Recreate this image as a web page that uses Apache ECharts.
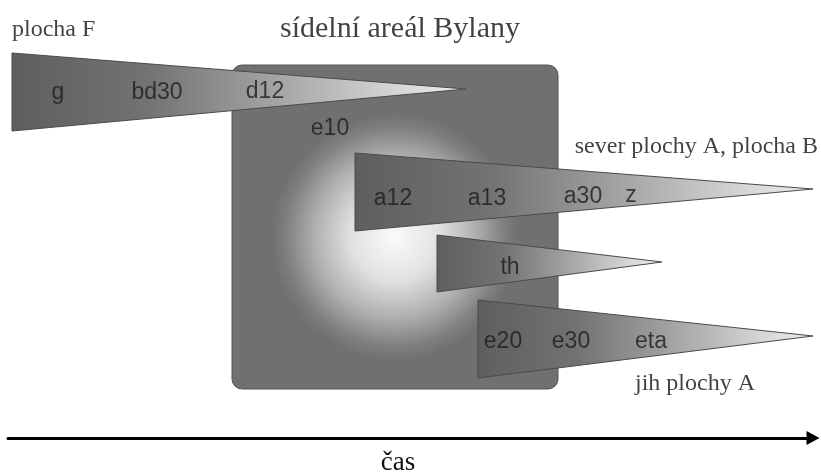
<!DOCTYPE html>
<html>
<head>
<meta charset="utf-8">
<script src="https://cdn.jsdelivr.net/npm/echarts@6/dist/echarts.min.js"></script>
<style>
html,body{margin:0;padding:0;background:#fff;}
#c{width:821px;height:474px;}
</style>
</head>
<body>
<div id="c"></div>
<script>
// ---- data (diagram units = horizontal time, vertical lane position) ----
const areaName = 'sídelní areál Bylany';
const areaX = [232, 558];        // start, end of settlement area
const areaY = [65, 389];         // top, bottom

const wedgeNames = ['plocha F', 'sever plochy A, plocha B', 'th', 'jih plochy A'];
const wedgeStart = [12, 355, 437, 478];
const wedgeEnd = [466, 813, 662, 813];
const wedgeTop = [53, 153, 235, 300];
const wedgeBottom = [131, 231, 292, 378];
const wedgeApexY = [89, 189, 262, 336];

const phaseLabels = ['g', 'bd30', 'd12', 'e10', 'a12', 'a13', 'a30', 'z', 'th', 'e20', 'e30', 'eta'];
const phaseX = [58, 157, 265, 330, 393, 487, 583, 631, 510, 503, 571, 651];
const phaseY = [93, 93, 92, 129, 199, 199, 197, 196, 268, 342, 342, 342];

const groupLabels = ['plocha F', 'sídelní areál Bylany', 'sever plochy A, plocha B', 'jih plochy A'];
const groupX = [12, 400, 818, 635];
const groupY = [30, 29, 147, 384];
const groupAlign = ['left', 'center', 'right', 'left'];
const groupSize = [24, 30, 24, 24];

const axisName = 'čas';

// ---- chart ----
const chart = echarts.init(document.getElementById('c'), null, {renderer: 'canvas'});

const wedgeData = wedgeNames.map((n, i) => [wedgeStart[i], wedgeTop[i], wedgeBottom[i], wedgeEnd[i], wedgeApexY[i]]);

const wedgeFill = {
  type: 'linear', x: 0, y: 0, x2: 1, y2: 0,
  colorStops: [
    {offset: 0, color: '#5e5e5e'},
    {offset: 0.3, color: '#737373'},
    {offset: 0.55, color: '#9e9e9e'},
    {offset: 0.85, color: '#d6d6d6'},
    {offset: 1, color: '#ededed'}
  ]
};

const areaFill = {
  type: 'radial', x: 0.5, y: 0.53, r: 0.38,
  colorStops: [
    {offset: 0, color: '#fafafa'},
    {offset: 0.35, color: '#e2e2e2'},
    {offset: 0.65, color: '#b0b0b0'},
    {offset: 0.88, color: '#808080'},
    {offset: 1, color: '#707070'}
  ]
};

chart.setOption({
  animation: false,
  backgroundColor: '#ffffff',
  grid: {left: 8, right: 8, top: 0, bottom: 36, containLabel: false, outerBoundsMode: 'none'},
  xAxis: {
    type: 'value', min: 8, max: 813,
    axisLine: {
      show: true, onZero: false,
      symbol: ['none', 'triangle'], symbolSize: [14, 13],
      lineStyle: {color: '#000', width: 3}
    },
    axisTick: {show: false}, axisLabel: {show: false}, splitLine: {show: false},
    name: axisName, nameLocation: 'middle', nameGap: 11,
    nameTextStyle: {fontFamily: 'Liberation Serif', fontSize: 27, color: '#111', padding: [0, 25, 0, 0]}
  },
  yAxis: {type: 'value', min: 0, max: 438, inverse: true, show: false},
  series: [
    {
      type: 'custom', name: areaName, z: 1,
      data: [[areaX[0], areaY[0], areaX[1], areaY[1]]],
      renderItem: function (params, api) {
        const a = api.coord([api.value(0), api.value(1)]);
        const b = api.coord([api.value(2), api.value(3)]);
        return {
          type: 'rect',
          shape: {x: a[0], y: a[1], width: b[0] - a[0], height: b[1] - a[1], r: 10},
          style: {fill: areaFill, stroke: '#555', lineWidth: 1}
        };
      }
    },
    {
      type: 'custom', name: 'wedges', z: 2,
      data: wedgeData,
      renderItem: function (params, api) {
        const p0 = api.coord([api.value(0), api.value(1)]);
        const p1 = api.coord([api.value(0), api.value(2)]);
        const p2 = api.coord([api.value(3), api.value(4)]);
        return {
          type: 'polygon',
          shape: {points: [p0, p2, p1]},
          style: {fill: wedgeFill, stroke: '#4a4a4a', lineWidth: 1}
        };
      }
    },
    {
      type: 'scatter', name: 'phases', z: 3, symbolSize: 0, silent: true,
      data: phaseLabels.map((t, i) => ({value: [phaseX[i], phaseY[i]], name: t})),
      label: {
        show: true, position: 'inside', formatter: '{b}',
        fontFamily: 'Liberation Sans', fontSize: 23, color: '#1c1c1c'
      }
    },
    {
      type: 'scatter', name: 'groups', z: 3, symbolSize: 0, silent: true, clip: false,
      data: groupLabels.map((t, i) => ({
        value: [groupX[i], groupY[i]], name: t,
        label: {align: groupAlign[i], fontSize: groupSize[i]}
      })),
      label: {
        show: true, position: 'inside', formatter: '{b}',
        fontFamily: 'Liberation Serif', color: '#111111'
      }
    }
  ]
});
</script>
</body>
</html>
